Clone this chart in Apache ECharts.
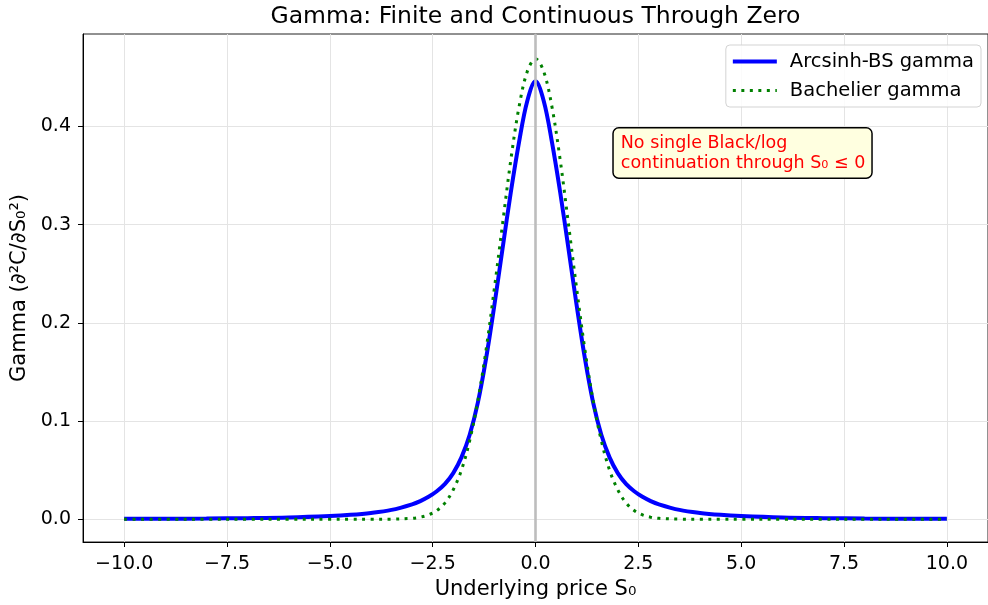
<!DOCTYPE html>
<html lang="en">
<head>
    <meta charset="UTF-8">
    <title>Gamma: Finite and Continuous Through Zero</title>
    <script src="https://cdn.jsdelivr.net/npm/echarts@6/dist/echarts.min.js"></script>
    <style>
        html, body { margin: 0; padding: 0; background: #fff; }
        #main { width: 988px; height: 605px; }
    </style>
</head>
<body>
    <div id="main"></div>
    <script type="text/javascript">
        // underlying price grid
        var xVals = [-10, -9, -8, -7, -6, -5, -4.5, -4, -3.5, -3, -2.8, -2.6, -2.4, -2.2, -2, -1.8, -1.6, -1.4, -1.2, -1, -0.8, -0.6, -0.4, -0.2,
                     0, 0.2, 0.4, 0.6, 0.8, 1, 1.2, 1.4, 1.6, 1.8, 2, 2.2, 2.4, 2.6, 2.8, 3, 3.5, 4, 4.5, 5, 6, 7, 8, 9, 10];
        // arcsinh-BS gamma
        var arcsinhGamma = [0.0004, 0.0005, 0.0007, 0.0011, 0.0018, 0.0033, 0.0045, 0.0064, 0.0095, 0.0152, 0.0185, 0.0228, 0.0285, 0.036, 0.047, 0.063, 0.086, 0.119, 0.164, 0.218, 0.276, 0.333, 0.384, 0.426,
                            0.446, 0.426, 0.384, 0.333, 0.276, 0.218, 0.164, 0.119, 0.086, 0.063, 0.047, 0.036, 0.0285, 0.0228, 0.0185, 0.0152, 0.0095, 0.0064, 0.0045, 0.0033, 0.0018, 0.0011, 0.0007, 0.0005, 0.0004];
        // bachelier gamma
        var bachelierGamma = [0, 0, 0, 0, 0, 0, 0, 0, 0.0001, 0.0009, 0.0021, 0.0044, 0.0088, 0.0166, 0.030, 0.050, 0.080, 0.121, 0.173, 0.235, 0.301, 0.366, 0.420, 0.456,
                              0.469, 0.456, 0.420, 0.366, 0.301, 0.235, 0.173, 0.121, 0.080, 0.050, 0.030, 0.0166, 0.0088, 0.0044, 0.0021, 0.0009, 0.0001, 0, 0, 0, 0, 0, 0, 0, 0];
        var xTicks = [-10, -7.5, -5, -2.5, 0, 2.5, 5, 7.5, 10];
        var yTicks = [0, 0.1, 0.2, 0.3, 0.4];

        var font = 'DejaVu Sans';

        function pairs(ys) {
            return xVals.map(function (x, i) { return [x, ys[i]]; });
        }
        function fmt(v) {
            return (v < 0 ? '\u2212' : '') + Math.abs(v).toFixed(1);
        }

        var myChart = echarts.init(document.getElementById('main'), null, { renderer: 'canvas' });

        var option = {
            animation: false,
            backgroundColor: '#fff',
            textStyle: { fontFamily: font },
            grid: {
                left: 83, top: 34, width: 908, height: 508,
                show: true, borderColor: '#222', borderWidth: 1, backgroundColor: 'transparent'
            },
            legend: {
                data: ['Arcsinh-BS gamma', 'Bachelier gamma'],
                orient: 'vertical',
                right: 7, top: 45,
                padding: [6, 7, 6, 5],
                itemGap: 8,
                itemWidth: 44, itemHeight: 14,
                backgroundColor: 'rgba(255,255,255,0.85)',
                borderColor: '#d3d3d3', borderWidth: 1, borderRadius: 4,
                itemStyle: { opacity: 0 },
                lineStyle: { width: 'inherit', type: 'inherit' },
                textStyle: { fontFamily: font, fontSize: 19.5, color: '#000', lineHeight: 21, padding: [0, 0, 0, 8] }
            },
            xAxis: {
                type: 'value',
                min: -11, max: 11,
                name: 'Underlying price S\u2080',
                nameLocation: 'middle', nameGap: 37,
                nameTextStyle: { fontFamily: font, fontSize: 21, color: '#000' },
                axisLine: { show: true, onZero: false, lineStyle: { color: '#000', width: 1 } },
                axisTick: { show: true, length: 5, customValues: xTicks, lineStyle: { color: '#000' } },
                axisLabel: { customValues: xTicks, formatter: fmt, margin: 13, fontFamily: font, fontSize: 19, color: '#000' },
                splitLine: { show: true, lineStyle: { color: '#e4e4e4', width: 1 } }
            },
            yAxis: {
                type: 'value',
                min: -0.0232, max: 0.4942,
                name: 'Gamma (\u2202\u00b2C/\u2202S\u2080\u00b2)',
                nameLocation: 'middle', nameGap: 51, nameRotate: 90,
                nameTextStyle: { fontFamily: font, fontSize: 21, color: '#000' },
                axisLine: { show: true, onZero: false, lineStyle: { color: '#000', width: 1 } },
                axisTick: { show: true, length: 5, customValues: yTicks, lineStyle: { color: '#000' } },
                axisLabel: { customValues: yTicks, formatter: fmt, margin: 12, fontFamily: font, fontSize: 19, color: '#000' },
                splitLine: { show: true, lineStyle: { color: '#e4e4e4', width: 1 } }
            },
            series: [
                {
                    // zero line
                    name: 'zero',
                    type: 'line',
                    data: [],
                    z: 1,
                    markLine: {
                        silent: true,
                        symbol: 'none',
                        label: { show: false },
                        lineStyle: { color: '#bdbdbd', width: 2.6, type: 'solid' },
                        data: [{ xAxis: 0 }]
                    }
                },
                {
                    name: 'Arcsinh-BS gamma',
                    type: 'line',
                    data: pairs(arcsinhGamma),
                    smooth: 0.35,
                    symbol: 'none',
                    z: 3,
                    lineStyle: { color: '#0000ff', width: 4 },
                    itemStyle: { color: '#0000ff' }
                },
                {
                    name: 'Bachelier gamma',
                    type: 'line',
                    data: pairs(bachelierGamma),
                    smooth: 0.35,
                    symbol: 'none',
                    z: 4,
                    lineStyle: { color: '#008000', width: 3, type: [3, 5.5] },
                    itemStyle: { color: '#008000' }
                }
            ]
        };
        myChart.setOption(option);

        // title and annotation placed from the axes
        var p0 = myChart.convertToPixel({ gridIndex: 0 }, [0, 0]);
        var pa = myChart.convertToPixel({ gridIndex: 0 }, [2.0, 0.373]);
        myChart.setOption({
            graphic: [
                {
                    type: 'text',
                    x: p0[0], y: 17,
                    style: {
                        text: 'Gamma: Finite and Continuous Through Zero',
                        font: '23.5px "DejaVu Sans"',
                        fill: '#000',
                        align: 'center', verticalAlign: 'middle'
                    }
                },
                {
                    type: 'text',
                    x: pa[0] - 4, y: pa[1],
                    z: 10,
                    style: {
                        text: 'No single Black/log\ncontinuation through S\u2080 \u2264 0',
                        font: '17.5px "DejaVu Sans"',
                        lineHeight: 20,
                        fill: '#ff0000',
                        align: 'left', verticalAlign: 'middle',
                        backgroundColor: '#ffffe0',
                        borderColor: '#000', borderWidth: 1.5, borderRadius: 5,
                        padding: [5, 6, 4, 7]
                    }
                }
            ]
        });
    </script>
</body>
</html>
